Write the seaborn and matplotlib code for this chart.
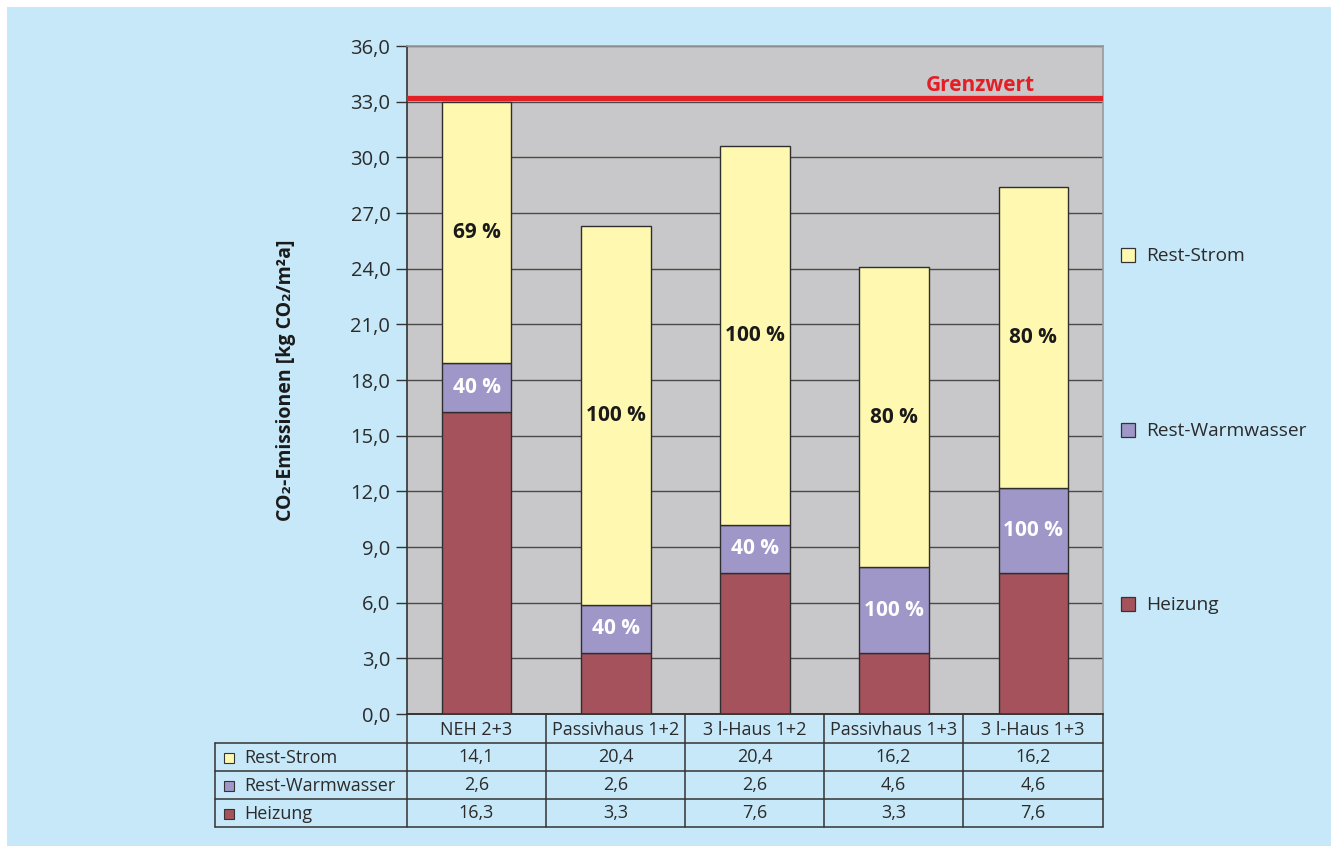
import matplotlib
matplotlib.use("Agg")
import matplotlib.pyplot as plt
from matplotlib.patches import Rectangle
import seaborn as sns
import pandas as pd
import numpy as np

# Data
categories = ["NEH 2+3", "Passivhaus 1+2", "3 l-Haus 1+2", "Passivhaus 1+3", "3 l-Haus 1+3"]
heizung = [16.3, 3.3, 7.6, 3.3, 7.6]
rest_warmwasser = [2.6, 2.6, 2.6, 4.6, 4.6]
rest_strom = [14.1, 20.4, 20.4, 16.2, 16.2]
warmwasser_labels = ["40 %", "40 %", "40 %", "100 %", "100 %"]
strom_labels = ["69 %", "100 %", "100 %", "80 %", "80 %"]
grenzwert = 33.18
series_names = ["Rest-Strom", "Rest-Warmwasser", "Heizung"]
yticks = np.arange(0, 37, 3.0)

# Styling
BG = "#c6e8f8"
PLOT_BG = "#c8c8ca"
C_STROM = "#fff8b0"
C_WW = "#a097c9"
C_HEIZ = "#a5525d"
RED = "#e31e24"
TXT = "#2b2b2b"
FONT = ["Open Sans", "DejaVu Sans"]

sns.set_theme(style="white")
plt.rcParams["font.family"] = FONT

W, H = 1335, 846
fig = plt.figure(figsize=(W / 100, H / 100), dpi=100)
fig.patch.set_facecolor("white")


def fx(px):
    return px / W


def fy(py):
    return 1 - py / H


# light blue panel
fig.add_artist(Rectangle((fx(7), 0), fx(1331) - fx(7), fy(7), transform=fig.transFigure,
                         facecolor=BG, edgecolor="none", zorder=0))

ax = fig.add_axes([fx(407), fy(714), fx(1103) - fx(407), fy(46) - fy(714)])
ax.set_facecolor(PLOT_BG)

df = pd.DataFrame({
    "Kategorie": categories,
    "Heizung": heizung,
    "Rest-Warmwasser": rest_warmwasser,
    "Rest-Strom": rest_strom,
})
bottom_ww = np.array(heizung)
bottom_strom = bottom_ww + np.array(rest_warmwasser)

common = dict(x="Kategorie", width=0.5, edgecolor="#2e2e2e", linewidth=1.0, ax=ax, zorder=3)
sns.barplot(data=df, y="Heizung", color=C_HEIZ, saturation=1, **common)
sns.barplot(data=df, y="Rest-Warmwasser", bottom=bottom_ww, color=C_WW, saturation=1, **common)
sns.barplot(data=df, y="Rest-Strom", bottom=bottom_strom, color=C_STROM, saturation=1, **common)

# percentage labels inside segments
for i in range(len(categories)):
    ax.text(i, bottom_ww[i] + rest_warmwasser[i] / 2, warmwasser_labels[i], ha="center", va="center",
            color="white", fontsize=15, fontweight="bold", zorder=5)
    ax.text(i, bottom_strom[i] + rest_strom[i] / 2, strom_labels[i], ha="center", va="center",
            color="#1a1a1a", fontsize=15, fontweight="bold", zorder=5)

# limit line
ax.axhline(grenzwert, color=RED, linewidth=3.8, zorder=4)
ax.text(4.01, grenzwert + 0.4, "Grenzwert", color=RED, fontsize=15, fontweight="bold",
        ha="right", va="baseline", zorder=5)

ax.set_xlim(-0.5, len(categories) - 0.5)
ax.set_ylim(0, 36)
ax.set_yticks(yticks)
ax.set_yticklabels([f"{v:.1f}".replace(".", ",") for v in yticks], fontsize=14.5, color=TXT)
ax.yaxis.grid(True, color="#4a4a4a", linewidth=1.0, zorder=1)
ax.set_axisbelow(True)
ax.tick_params(axis="y", length=8, width=1, color="#333333", pad=4, left=True)
ax.set_xticks([])
ax.set_xlabel("")
ax.set_ylabel("CO₂-Emissionen [kg CO₂/m²a]", fontsize=14, fontweight="bold", color="#1a1a1a")
ax.yaxis.set_label_coords(-0.16, 0.5)
for side in ["top", "right"]:
    ax.spines[side].set_color("#9a9a9a")
    ax.spines[side].set_linewidth(1.2)
ax.spines["left"].set_color("#333333")
ax.spines["left"].set_linewidth(1.2)
ax.spines["bottom"].set_color("#333333")
ax.spines["bottom"].set_linewidth(1.2)

# data table below the plot
col_edges = [407, 546, 685, 824, 963, 1103]
row_edges = [714, 743, 771, 799, 827]
left_x = 215
line_kw = dict(color="#333333", linewidth=1.1, transform=fig.transFigure, zorder=6)


def hline(x0, x1, y):
    fig.add_artist(plt.Line2D([fx(x0), fx(x1)], [fy(y), fy(y)], **line_kw))


def vline(x, y0, y1):
    fig.add_artist(plt.Line2D([fx(x), fx(x)], [fy(y0), fy(y1)], **line_kw))


hline(col_edges[0], col_edges[-1], row_edges[0])
for y in row_edges[1:]:
    hline(left_x, col_edges[-1], y)
for x in col_edges:
    vline(x, row_edges[0], row_edges[-1])
vline(left_x, row_edges[1], row_edges[-1])

for j, cat in enumerate(categories):
    cx = (col_edges[j] + col_edges[j + 1]) / 2
    fig.text(fx(cx), fy((row_edges[0] + row_edges[1]) / 2 + 1), cat, ha="center", va="center",
             fontsize=13, color=TXT)

table_rows = [rest_strom, rest_warmwasser, heizung]
row_colors = [C_STROM, C_WW, C_HEIZ]
for r, (name, vals, col) in enumerate(zip(series_names, table_rows, row_colors)):
    cy = (row_edges[r + 1] + row_edges[r + 2]) / 2
    fig.add_artist(Rectangle((fx(224), fy(cy + 6)), fx(10), fy(cy - 4) - fy(cy + 6),
                             transform=fig.transFigure, facecolor=col, edgecolor="#333333",
                             linewidth=0.8, zorder=6))
    fig.text(fx(244), fy(cy + 1), name, ha="left", va="center", fontsize=13, color=TXT)
    for j, v in enumerate(vals):
        cx = (col_edges[j] + col_edges[j + 1]) / 2
        fig.text(fx(cx), fy(cy), f"{v:.1f}".replace(".", ","), ha="center", va="center",
                 fontsize=13, color=TXT)

# legend on the right
legend_y = [255, 430, 604]
for name, col, ly in zip(series_names, row_colors, legend_y):
    fig.add_artist(Rectangle((fx(1121), fy(ly + 7)), fx(14), fy(ly - 7) - fy(ly + 7),
                             transform=fig.transFigure, facecolor=col, edgecolor="#333333",
                             linewidth=0.9, zorder=6))
    fig.text(fx(1146), fy(ly + 1), name, ha="left", va="center", fontsize=13.8, color=TXT)

fig.savefig("out.png", dpi=100, facecolor=fig.get_facecolor())
